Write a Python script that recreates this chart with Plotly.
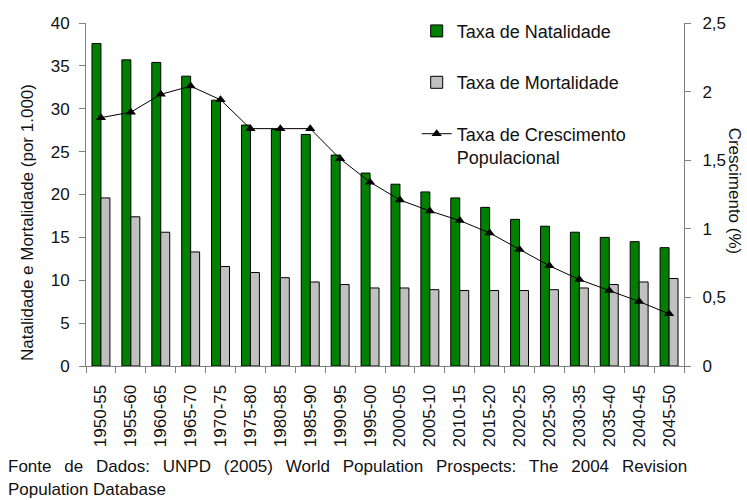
import plotly.graph_objects as go

# Data
periodos = ['1950-55', '1955-60', '1960-65', '1965-70', '1970-75', '1975-80', '1980-85',
            '1985-90', '1990-95', '1995-00', '2000-05', '2005-10', '2010-15', '2015-20',
            '2020-25', '2025-30', '2030-35', '2035-40', '2040-45', '2045-50']
natalidade = [37.6, 35.7, 35.4, 33.8, 31.0, 28.1, 27.6, 27.0, 24.6, 22.5,
              21.2, 20.3, 19.6, 18.5, 17.1, 16.3, 15.6, 15.0, 14.5, 13.8]
mortalidade = [19.6, 17.4, 15.6, 13.3, 11.6, 10.9, 10.3, 9.8, 9.5, 9.1,
               9.1, 8.9, 8.8, 8.8, 8.8, 8.9, 9.1, 9.5, 9.8, 10.2]
crescimento = [1.81, 1.85, 1.98, 2.04, 1.94, 1.73, 1.73, 1.73, 1.51, 1.34,
               1.21, 1.13, 1.06, 0.97, 0.85, 0.73, 0.63, 0.55, 0.47, 0.38]

font_name = 'Liberation Sans, Arial, sans-serif'
gap = '\u00a0\u00a0\u2009'

fig = go.Figure()

fig.add_trace(go.Bar(
    x=periodos, y=natalidade, name='Taxa de Natalidade',
    marker=dict(color='#008000', line=dict(color='black', width=1)),
    legendgroup='a'
))
fig.add_trace(go.Bar(
    x=periodos, y=mortalidade, name='Taxa de Mortalidade',
    marker=dict(color='#C0C0C0', line=dict(color='black', width=1)),
    legendgroup='b'
))
fig.add_trace(go.Scatter(
    x=periodos, y=crescimento, name='Taxa de Crescimento<br>Populacional',
    mode='lines+markers', yaxis='y2',
    line=dict(color='black', width=1),
    marker=dict(symbol='triangle-up', size=9, color='black'),
    legendgroup='c'
))

# footer text with widened word spacing
fonte = gap.join('Fonte de Dados: UNPD (2005) World Population Prospects: The 2004 Revision'.split(' '))

fig.update_layout(
    width=747, height=500,
    margin=dict(l=86, r=63, t=23, b=134),
    paper_bgcolor='white', plot_bgcolor='white',
    font=dict(family=font_name, size=17, color='#111111'),
    separators=',.',
    barmode='group', bargap=0.4, bargroupgap=0,
    showlegend=True,
    legend=dict(x=0.553, y=1.03, xanchor='left', yanchor='top', valign='top',
                tracegroupgap=25, bgcolor='rgba(0,0,0,0)',
                font=dict(size=18)),
    xaxis=dict(
        type='category', automargin=False, range=[-0.5, 19.5],
        showline=True, linecolor='#808080', linewidth=1,
        ticks='outside', tickson='boundaries', ticklen=6, tickcolor='#808080',
        tickangle=-90, showgrid=False, tickfont=dict(size=17),
        ticklabelstandoff=11
    ),
    yaxis=dict(
        range=[0, 40], dtick=5, automargin=False,
        showline=True, linecolor='#808080', linewidth=1,
        ticks='outside', ticklen=6, tickcolor='#808080',
        showgrid=False, zeroline=False,
        tickfont=dict(size=17), ticklabelstandoff=6
    ),
    yaxis2=dict(
        range=[0, 2.5], dtick=0.5, overlaying='y', side='right', automargin=False,
        showline=True, linecolor='#808080', linewidth=1,
        ticks='outside', ticklen=6, tickcolor='#808080',
        showgrid=False, zeroline=False,
        tickfont=dict(size=17), ticklabelstandoff=8
    ),
    annotations=[
        dict(text='Natalidade e Mortalidade (por 1.000)', textangle=-90,
             xref='paper', yref='paper', x=-0.097, y=0.42,
             xanchor='center', yanchor='middle', showarrow=False, font=dict(size=17)),
        dict(text='Crescimento (%)', textangle=90, xref='paper', yref='paper',
             x=1.086, y=0.51, xanchor='center', yanchor='middle', showarrow=False,
             font=dict(size=17)),
        dict(text=fonte,
             xref='paper', yref='paper', x=-0.134, y=-0.294, xanchor='left', yanchor='middle',
             showarrow=False, font=dict(size=17)),
        dict(text='Population Database',
             xref='paper', yref='paper', x=-0.134, y=-0.360, xanchor='left', yanchor='middle',
             showarrow=False, font=dict(size=17)),
    ]
)

fig.write_html("out.html", config={'displayModeBar': False},
               post_script="document.body.style.margin='0';")
